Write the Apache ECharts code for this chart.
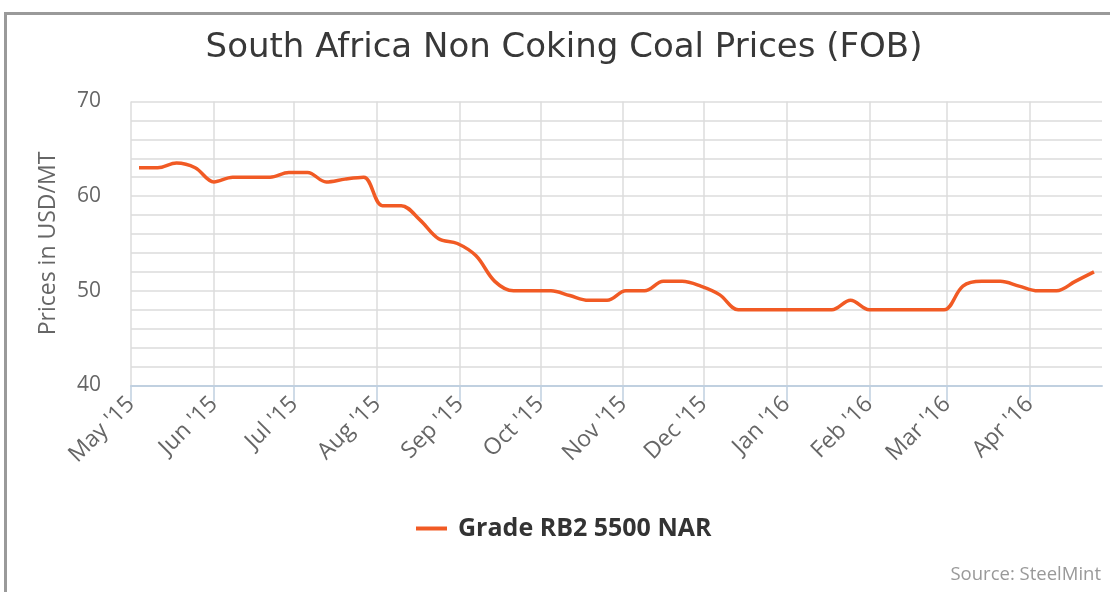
<!DOCTYPE html>
<html>
<head>
<meta charset="utf-8">
<script src="https://cdn.jsdelivr.net/npm/echarts@6/dist/echarts.min.js"></script>
<style>
html,body{margin:0;padding:0;background:#fff;}
#chart{width:1110px;height:592px;}
</style>
</head>
<body>
<div id="chart"></div>
<script>
// ---- data ----
var dates = ['2015-05-04','2015-05-11','2015-05-18','2015-05-25','2015-06-01','2015-06-08','2015-06-15','2015-06-22','2015-06-29','2015-07-06','2015-07-13','2015-07-20','2015-07-27','2015-08-03','2015-08-10','2015-08-17','2015-08-24','2015-08-31','2015-09-07','2015-09-14','2015-09-21','2015-09-28','2015-10-05','2015-10-12','2015-10-19','2015-10-26','2015-11-02','2015-11-09','2015-11-16','2015-11-23','2015-11-30','2015-12-07','2015-12-14','2015-12-21','2015-12-28','2016-01-04','2016-01-11','2016-01-18','2016-01-25','2016-02-01','2016-02-08','2016-02-15','2016-02-22','2016-02-29','2016-03-07','2016-03-14','2016-03-21','2016-03-28','2016-04-04','2016-04-11','2016-04-18','2016-04-25'];
var prices = [63,63,63.5,63,61.5,62,62,62,62.5,62.5,61.5,61.8,62,59,59,57.5,55.5,55,53.7,51,50,50,50,49.5,49,49,50,50,51,51,50.5,49.6,48,48,48,48,48,48,49,48,48,48,48,48,50.5,51,51,50.5,50,50,51,52];
var monthStarts = ['2015-05-01','2015-06-01','2015-07-01','2015-08-01','2015-09-01','2015-10-01','2015-11-01','2015-12-01','2016-01-01','2016-02-01','2016-03-01','2016-04-01'];
var monthLabels = ["May '15","Jun '15","Jul '15","Aug '15","Sep '15","Oct '15","Nov '15","Dec '15","Jan '16","Feb '16","Mar '16","Apr '16"];
var yTicks = [40, 50, 60, 70];
var seriesName = 'Grade RB2 5500 NAR';
var titleText = 'South Africa Non Coking Coal Prices (FOB)';
var yTitle = 'Prices in USD/MT';
var sourceText = 'Source: SteelMint';
var axisStart = '2015-05-01';
var axisEnd = '2016-04-28';

function toTime(s){ var p = s.split('-'); return Date.UTC(+p[0], +p[1]-1, +p[2]); }
var monthTimes = monthStarts.map(toTime);
var seriesData = dates.map(function(d,i){ return [toTime(d), prices[i]]; });

var FONT = '"Open Sans", "DejaVu Sans", sans-serif';
var TFONT = '"DejaVu Sans", "Open Sans", sans-serif';
var chart = echarts.init(document.getElementById('chart'));
chart.setOption({
  animation: false,
  title: {
    text: titleText,
    left: 559, top: 26, textAlign: 'center',
    textStyle: { fontFamily: TFONT, fontSize: 34, fontWeight: 'normal', color: '#383838' }
  },
  graphic: [
    { type: 'rect', silent: true, shape: { x: 5.5, y: 13.5, width: 3000, height: 3000 },
      style: { fill: 'none', stroke: '#9a9a9a', lineWidth: 3 } },
    { type: 'text', right: 9, top: 565,
      style: { text: sourceText, font: '18.5px ' + FONT, fill: '#999' } }
  ],
  legend: {
    left: 411, top: 511,
    icon: 'rect', itemWidth: 31, itemHeight: 4,
    textStyle: { fontFamily: FONT, fontSize: 25, fontWeight: 'bold', color: '#333', padding: [0,0,0,6] },
    data: [seriesName]
  },
  grid: { left: 131, right: 8, top: 101.5, height: 284, containLabel: false },
  xAxis: {
    type: 'value',
    min: toTime(axisStart), max: toTime(axisEnd),
    axisLine: { show: true, lineStyle: { color: '#c0d0e0', width: 2 } },
    axisTick: { show: true, length: 16, lineStyle: { color: '#c0d0e0', width: 1.5 }, customValues: monthTimes },
    axisLabel: {
      customValues: monthTimes,
      rotate: 45, margin: 15,
      fontFamily: FONT, fontSize: 23, color: '#666',
      formatter: function(v){ var i = monthTimes.indexOf(v); return i >= 0 ? monthLabels[i] : ''; }
    },
    splitLine: { show: true, lineStyle: { color: '#dcdcdc', width: 1.5 } }
  },
  yAxis: {
    type: 'value', min: yTicks[0], max: yTicks[yTicks.length-1], interval: 10,
    name: yTitle, nameLocation: 'middle', nameGap: 71, nameRotate: 90,
    nameTextStyle: { fontFamily: FONT, fontSize: 23, color: '#666' },
    axisLine: { show: false }, axisTick: { show: false },
    axisLabel: { margin: 30, fontFamily: FONT, fontSize: 21, color: '#666' },
    splitLine: { show: true, lineStyle: { color: '#dcdcdc', width: 1.5 } },
    minorTick: { show: false, splitNumber: 5 },
    minorSplitLine: { show: true, lineStyle: { color: '#dcdcdc', width: 1.5 } }
  },
  series: [{
    name: seriesName, type: 'line', data: seriesData,
    smooth: 0.35, symbol: 'none', showSymbol: false,
    lineStyle: { color: '#f15a24', width: 3.5 },
    itemStyle: { color: '#f15a24' }
  }]
});
</script>
</body>
</html>
